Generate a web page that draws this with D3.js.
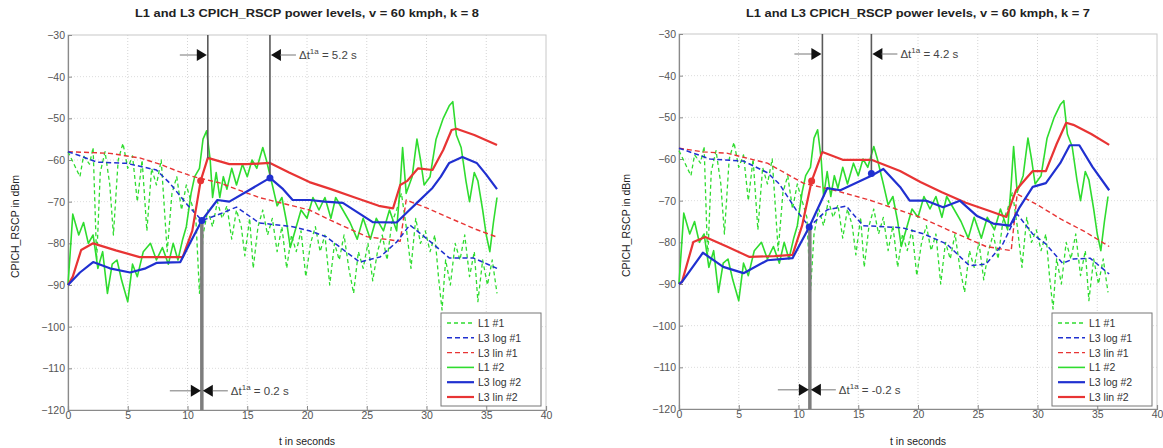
<!DOCTYPE html>
<html><head><meta charset="utf-8">
<script src="https://cdn.jsdelivr.net/npm/d3@7"></script>
<style>
body{margin:0;background:#fff}
svg{display:block}
text{font-family:"Liberation Sans",Arial,sans-serif}
</style>
</head><body>
<svg id="chart" width="1163" height="448"></svg>
<script>
// ---------- data ----------
const xTicks = [0, 5, 10, 15, 20, 25, 30, 35, 40];
const yTicks = [-30, -40, -50, -60, -70, -80, -90, -100, -110, -120];
const titles = ["L1 and L3 CPICH_RSCP power levels, v = 60 kmph, k = 8",
                "L1 and L3 CPICH_RSCP power levels, v = 60 kmph, k = 7"];
const legendLabels = ["L1 #1", "L3 log #1", "L3 lin #1", "L1 #2", "L3 log #2", "L3 lin #2"];

// L1 measurements (same for both panels)
const l1_1_t = [0,0.5,1.0,1.3,1.8,2.1,2.4,2.7,3.1,3.5,3.8,4.2,4.6,5.0,5.4,5.8,6.2,6.6,7.0,7.4,7.8,8.3,8.7,9.1,9.5,9.9,10.3,10.7,11.0,11.3,11.7,12.1,12.5,12.9,13.3,13.7,14.1,14.5,14.8,15.2,15.5,15.9,16.3,16.7,17.1,17.5,17.9,18.3,18.7,19.1,19.5,19.9,20.3,20.7,21.1,21.5,21.9,22.3,22.7,23.1,23.5,23.9,24.3,24.7,25.1,25.5,25.9,26.3,26.7,27.1,27.5,27.9,28.3,28.7,29.1,29.5,29.9,30.3,30.7,31.0,31.3,31.6,32.0,32.4,32.8,33.2,33.6,34.0,34.3,34.7,35.1,35.5,35.9];
const l1_1_v = [-58,-61,-64,-59,-61,-57,-84,-63,-58,-66,-78,-60,-56,-62,-59,-70,-60,-77,-62,-66,-60,-82,-68,-64,-72,-66,-70,-74,-92,-78,-72,-76,-70,-74,-71,-79,-72,-76,-83,-74,-86,-76,-72,-78,-74,-82,-76,-86,-78,-82,-77,-88,-80,-76,-82,-78,-90,-80,-84,-78,-86,-92,-82,-86,-80,-89,-82,-78,-84,-75,-72,-68,-76,-86,-74,-80,-77,-82,-78,-88,-96,-84,-90,-80,-84,-78,-88,-82,-94,-84,-90,-84,-92];
const l1_2_t = [0,0.4,0.9,1.3,1.7,2.1,2.5,2.9,3.3,3.7,4.1,4.5,5.0,5.4,5.8,6.3,6.9,7.4,7.9,8.4,8.8,9.2,9.6,9.9,10.3,10.6,11.0,11.3,11.6,11.9,12.1,12.4,12.7,13.0,13.3,13.7,14.1,14.6,15.0,15.4,15.8,16.3,16.6,17.1,17.5,17.9,18.3,18.6,19.1,19.5,20.0,20.5,21.0,21.5,22.0,22.4,23.0,23.6,24.2,24.7,25.3,25.8,26.4,26.9,27.5,27.8,28.0,28.3,28.8,29.2,29.5,29.8,30.3,30.8,31.4,31.9,32.2,32.5,32.9,33.3,33.6,34.0,34.3,34.7,35.0,35.3,35.6,35.9];
const l1_2_v = [-90,-73,-78,-75,-80,-78,-86,-82,-92,-85,-84,-89,-94,-85,-88,-82,-80,-84,-81,-85,-80,-84,-79,-76,-68,-64,-62,-55,-53,-60,-69,-63,-69,-64,-67,-62,-66,-61,-64,-60,-62,-57,-60,-66,-71,-69,-75,-81,-76,-72,-74,-69,-72,-69,-74,-69,-72,-75,-79,-74,-79,-74,-77,-72,-77,-66,-57,-68,-64,-55,-60,-66,-64,-55,-50,-47,-46,-54,-57,-65,-70,-63,-65,-72,-78,-82,-75,-69];

// L3 filtered, k = 8
const k8_log1_t = [0,1,2.4,4.9,7.4,8.5,10,11.2,12.5,14.1,16,18.8,20.2,21.6,24.4,26.1,27.5,28.6,30.5,31.9,33.9,35.9];
const k8_log1_v = [-58,-59,-60.5,-60.8,-62.4,-65.5,-70.8,-74.5,-73.2,-71.3,-75.1,-76,-77,-78.4,-84.5,-83.3,-79.7,-75.6,-80,-83.5,-83.5,-86];
const k8_lin1_t = [0,3.5,6,7.7,9,10.5,12.7,16,20.2,22,25,27.8,28.3,30,32,34,35.9];
const k8_lin1_v = [-58,-58.4,-59.5,-61,-62.5,-64,-65.5,-69,-72,-74.5,-78.4,-79.5,-69.6,-71.5,-74,-76.5,-78.5];
const k8_log2_t = [0,1,2.1,3.5,5.2,6.5,7.4,9.4,10.2,11.2,12.5,13.5,15,16.9,18,18.8,20.2,21.5,23,24.2,25.5,27.5,28.4,29.2,30.5,31.2,31.9,33,34.2,35,35.9];
const k8_log2_v = [-90,-87,-84.5,-86,-87,-86,-84.7,-84.5,-80,-74.5,-69.6,-70,-67.5,-64.3,-67,-69.6,-69.6,-70,-70.3,-72.5,-74.9,-75,-72.5,-70.3,-66.7,-64,-60.7,-59.3,-60.7,-63.5,-67];
const k8_lin2_t = [0,0.4,1.1,2.1,4,6,8,9.6,10.4,11.1,11.7,13.5,15,16.9,18.5,20.2,22,24,26,27.2,27.8,28.4,29.3,30.5,31.4,32.1,32.5,34,35.9];
const k8_lin2_v = [-90,-88,-81.6,-80,-81.7,-83.3,-83.3,-83.3,-77,-65,-59.5,-61,-61,-60.7,-63,-65.3,-67,-69,-71,-71.6,-66,-65,-62,-62.4,-57.6,-52.8,-52.5,-54,-56.4];

// L3 filtered, k = 7
const k7_log1_t = [0,2.6,5.4,7.4,8.4,9.8,10.9,12.4,14,15.4,18.7,20.5,22.4,24.3,25.7,27.1,28.3,29.6,30.7,32.1,33,34.4,36];
const k7_log1_v = [-57.4,-60,-60.5,-63.3,-66,-72.2,-76.3,-72.2,-71.3,-76,-76.5,-78,-80.4,-85.6,-85.2,-80.4,-73.2,-78,-80.4,-85,-84,-83.8,-87.6];
const k7_lin1_t = [0,2,4,7.4,10.4,13,16,20.2,22.5,25.7,27.8,28.3,30,32,34,36];
const k7_lin1_v = [-57.4,-58.3,-58.6,-61,-65.8,-67.5,-69.9,-74,-77,-81,-82,-68.4,-71,-74.5,-77.5,-81];
const k7_log2_t = [0,0.25,2,3.7,5.4,7.4,9.5,10.9,12.4,13.5,16.1,17.1,18.5,19.3,20.7,22.1,23.5,24.9,26.3,27.7,28.5,29.6,30.7,31.9,32.7,33.5,34.6,36];
const k7_log2_v = [-90,-89.5,-82.5,-85.9,-87.4,-84.3,-83.8,-76.3,-67,-67.5,-64,-62.4,-66.7,-70,-70,-71.6,-70,-73.6,-75.5,-76,-71.6,-66.7,-65.8,-61,-56.7,-56.7,-61.9,-67.5];
const k7_lin2_t = [0,0.25,1.2,2.2,4,5.9,8,9.5,10.3,11.1,12.0,13.7,16.1,18.5,20.2,22,24,26,27.4,28.2,29.1,29.6,30.7,31.6,32.4,33,34.5,36];
const k7_lin2_v = [-90,-89.5,-79.9,-78.7,-81,-83.5,-83.3,-83,-76,-65.3,-58.3,-60.2,-60.2,-62.9,-65.5,-68,-70.5,-72.5,-73.9,-67.5,-64.5,-62.9,-62.9,-56.4,-51.3,-51.8,-54,-56.6];

// markers [t, value]
const k8_markRed = [[11.1, -65]];
const k8_markBlue = [[11.2, -74.5], [16.9, -64.3]];
const k7_markRed = [[11.1, -65.3]];
const k7_markBlue = [[10.9, -76.3], [16.1, -63.5]];

// event timing annotations: top lines [t, value reached], gray line t, labels
const k8_topLines = [[11.7, -59.5], [16.9, -64.3]];
const k7_topLines = [[12.0, -58.3], [16.1, -63.5]];
const k8_grayLine = [11.2, -74.5];
const k7_grayLine = [10.95, -76.3];
const k8_dtLabels = ["5.2 s", "0.2 s"];
const k7_dtLabels = ["4.2 s", "-0.2 s"];

// ---------- drawing ----------
const GREEN = "#2fdc2f", BLUE = "#2030d0", RED = "#e83434";
const svg = d3.select("#chart");
const zip = (t, v) => t.map((d, i) => [d, v[i]]);

const panels = [
  {x0: 68, x1: 546, y0: 35, y1: 410, title: titles[0],
   series: [zip(l1_1_t,l1_1_v), zip(k8_log1_t,k8_log1_v), zip(k8_lin1_t,k8_lin1_v),
            zip(l1_2_t,l1_2_v), zip(k8_log2_t,k8_log2_v), zip(k8_lin2_t,k8_lin2_v)],
   red: k8_markRed, blue: k8_markBlue, top: k8_topLines, gray: k8_grayLine, labels: k8_dtLabels},
  {x0: 679, x1: 1157, y0: 34, y1: 409, title: titles[1],
   series: [zip(l1_1_t,l1_1_v), zip(k7_log1_t,k7_log1_v), zip(k7_lin1_t,k7_lin1_v),
            zip(l1_2_t,l1_2_v), zip(k7_log2_t,k7_log2_v), zip(k7_lin2_t,k7_lin2_v)],
   red: k7_markRed, blue: k7_markBlue, top: k7_topLines, gray: k7_grayLine, labels: k7_dtLabels}
];
const styles = [
  {c: GREEN, w: 1.3, dash: "4,3"},
  {c: BLUE, w: 1.5, dash: "5,3"},
  {c: RED, w: 1.4, dash: "5,3"},
  {c: GREEN, w: 1.6, dash: null},
  {c: BLUE, w: 2.2, dash: null},
  {c: RED, w: 2.2, dash: null}
];

panels.forEach(p => {
  const x = d3.scaleLinear().domain([0, 40]).range([p.x0, p.x1]);
  const y = d3.scaleLinear().domain([-120, -30]).range([p.y1, p.y0]);
  const g = svg.append("g");

  // grid
  g.append("g").selectAll("line").data(xTicks.slice(1, -1)).join("line")
    .attr("x1", d => x(d)).attr("x2", d => x(d)).attr("y1", p.y0).attr("y2", p.y1)
    .attr("stroke", "#d4d4d4").attr("stroke-width", 1).attr("stroke-dasharray", "1,2");
  g.append("g").selectAll("line").data(yTicks.slice(1, -1)).join("line")
    .attr("y1", d => y(d)).attr("y2", d => y(d)).attr("x1", p.x0).attr("x2", p.x1)
    .attr("stroke", "#dcdcdc").attr("stroke-width", 1).attr("stroke-dasharray", "1,2");

  // box
  g.append("rect").attr("x", p.x0).attr("y", p.y0).attr("width", p.x1 - p.x0).attr("height", p.y1 - p.y0)
    .attr("fill", "none").attr("stroke", "#c8c8c8");

  // axes
  const ax = g.append("g").attr("transform", `translate(0,${p.y1})`)
    .call(d3.axisBottom(x).tickValues(xTicks).tickSize(-4).tickPadding(3));
  const ay = g.append("g").attr("transform", `translate(${p.x0},0)`)
    .call(d3.axisLeft(y).tickValues(yTicks).tickSize(-4).tickPadding(3));
  [ax, ay].forEach(a => {
    a.select(".domain").attr("stroke", "#8a8a8a").attr("stroke-width", 1.2);
    a.selectAll(".tick line").attr("stroke", "#8a8a8a");
    a.selectAll(".tick text").attr("fill", "#555").attr("font-size", 10.5)
      .attr("font-family", "'Liberation Sans',Arial,sans-serif");
  });
  ax.selectAll(".tick text").attr("dy", "0.6em");

  // series
  const line = d3.line().x(d => x(d[0])).y(d => y(d[1]));
  const order = [0, 3, 2, 1, 5, 4];
  order.forEach(i => {
    g.append("path").datum(p.series[i]).attr("d", line)
      .attr("fill", "none").attr("stroke", styles[i].c).attr("stroke-width", styles[i].w)
      .attr("stroke-dasharray", styles[i].dash).attr("stroke-linejoin", "round");
  });

  // annotation lines
  g.selectAll(".topline").data(p.top).join("line")
    .attr("x1", d => x(d[0])).attr("x2", d => x(d[0]))
    .attr("y1", y(-30)).attr("y2", d => y(d[1]))
    .attr("stroke", "#5a5a5a").attr("stroke-width", 1.6);
  g.append("line").attr("x1", x(p.gray[0])).attr("x2", x(p.gray[0]))
    .attr("y1", y(p.gray[1])).attr("y2", y(-120))
    .attr("stroke", "#7d7d7d").attr("stroke-width", 3.5);

  // markers
  g.selectAll(".mr").data(p.red).join("circle")
    .attr("cx", d => x(d[0])).attr("cy", d => y(d[1])).attr("r", 3.5).attr("fill", RED);
  g.selectAll(".mb").data(p.blue).join("circle")
    .attr("cx", d => x(d[0])).attr("cy", d => y(d[1])).attr("r", 3.5).attr("fill", BLUE);

  // arrows helper
  const tri = (tipX, cy, dir) => {
    const L = 10, H = 6;
    return `M${tipX},${cy}L${tipX - dir * L},${cy - H}L${tipX - dir * L},${cy + H}Z`;
  };
  const dtText = (tx, ty, val) => {
    const t = g.append("text").attr("x", tx).attr("y", ty + 4).attr("font-size", 11.5).attr("fill", "#444");
    t.append("tspan").text("Δt");
    t.append("tspan").attr("dy", -5).attr("font-size", 8).text("1a");
    t.append("tspan").attr("dy", 5).text(" = " + val);
  };
  // top arrows
  const ya = y(-34.8);
  const xa = x(p.top[0][0]), xb = x(p.top[1][0]);
  g.append("line").attr("x1", xa - 28).attr("x2", xa - 10).attr("y1", ya).attr("y2", ya).attr("stroke", "#777");
  g.append("path").attr("d", tri(xa - 1, ya, 1)).attr("fill", "#111");
  g.append("path").attr("d", tri(xb + 1, ya, -1)).attr("fill", "#111");
  g.append("line").attr("x1", xb + 10).attr("x2", xb + 26).attr("y1", ya).attr("y2", ya).attr("stroke", "#777");
  dtText(xb + 29, ya, p.labels[0]);
  // bottom bow-tie
  const yb = y(-115.4);
  const xg = x(p.gray[0]);
  g.append("line").attr("x1", xg - 32).attr("x2", xg - 11).attr("y1", yb).attr("y2", yb).attr("stroke", "#777");
  g.append("path").attr("d", tri(xg - 1, yb, 1)).attr("fill", "#111");
  g.append("path").attr("d", tri(xg + 1, yb, -1)).attr("fill", "#111");
  g.append("line").attr("x1", xg + 11).attr("x2", xg + 26).attr("y1", yb).attr("y2", yb).attr("stroke", "#777");
  dtText(xg + 29, yb, p.labels[1]);

  // title, axis labels
  const cx = (p.x0 + p.x1) / 2;
  g.append("text").attr("x", cx).attr("y", 17).attr("text-anchor", "middle")
    .attr("font-size", 11).attr("font-weight", "bold").attr("fill", "#222")
    .attr("textLength", 344).attr("lengthAdjust", "spacingAndGlyphs").text(p.title);
  g.append("text").attr("x", cx).attr("y", 445).attr("text-anchor", "middle")
    .attr("font-size", 10.5).attr("fill", "#222").text("t in seconds");
  g.append("text").attr("transform", `translate(${p.x0 - 49},${(p.y0 + p.y1) / 2 + 4}) rotate(-90)`)
    .attr("text-anchor", "middle").attr("font-size", 10.5).attr("fill", "#222").text("CPICH_RSCP in dBm");

  // legend
  const lx = p.x1 - 105, ly = 313, lw = 100, lh = 93;
  const lg = g.append("g");
  lg.append("rect").attr("x", lx).attr("y", ly).attr("width", lw).attr("height", lh)
    .attr("fill", "#fff").attr("stroke", "#777");
  legendLabels.forEach((lab, i) => {
    const yy = ly + 10 + i * 14.8;
    lg.append("line").attr("x1", lx + 6).attr("x2", lx + 33).attr("y1", yy).attr("y2", yy)
      .attr("stroke", styles[i].c).attr("stroke-width", styles[i].w).attr("stroke-dasharray", styles[i].dash);
    lg.append("text").attr("x", lx + 37).attr("y", yy + 4).attr("font-size", 10.5).attr("fill", "#333").text(lab);
  });
});
</script>
</body></html>
